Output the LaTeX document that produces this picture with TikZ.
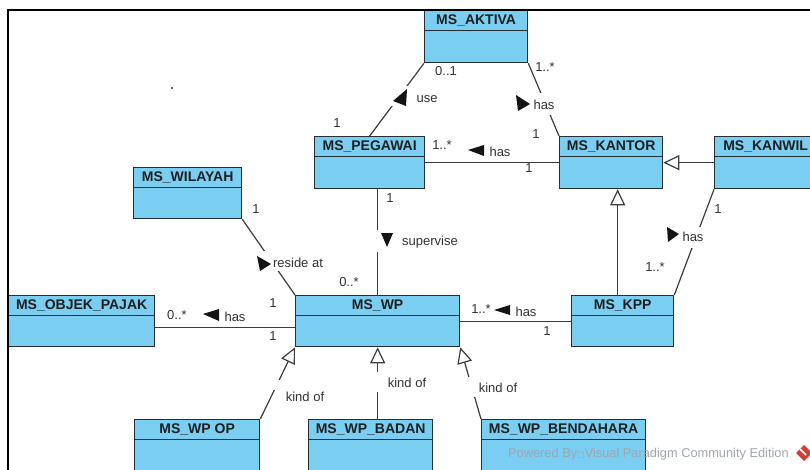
\documentclass[tikz,border=0pt]{standalone}
\usepackage{fontspec}
\setmainfont{Liberation Sans}
\newfontfamily\symfont{DejaVu Sans}
\usetikzlibrary{arrows.meta}
\definecolor{clsfill}{RGB}{122,206,242}
\definecolor{clsline}{RGB}{38,46,54}
\definecolor{lnc}{RGB}{60,60,60}
\definecolor{txt}{RGB}{50,50,50}
\definecolor{wm}{RGB}{160,165,172}
\definecolor{vpred}{RGB}{215,60,50}
\tikzset{
  clsbox/.style={draw=clsline, fill=clsfill, line width=1.3pt, inner sep=0pt},
  clshead/.style={draw=clsline, fill=clsfill, line width=1.3pt, inner sep=0pt,
    minimum height=20pt, anchor=north, font=\fontsize{14}{15}\selectfont\bfseries, text=black!88},
  assoc/.style={draw=lnc, line width=1.2pt},
  gen/.style={draw=lnc, line width=1.2pt, -{Triangle[length=16pt,width=15pt,fill=white]}},
  lbl/.style={inner sep=0pt, font=\fontsize{13}{14}\selectfont, text=txt},
  gapbox/.style={fill=white, inner sep=0pt},
  dirtri/.style={fill=black!92},
}
\newcommand\umlcls[6]{%
  \node[clsbox, minimum width=#4pt, minimum height=#5pt, anchor=north west] (#1) at (#2,#3) {};
  \node[clshead, minimum width=#4pt] (#1-h) at (#1.north) {#6};}
\begin{document}
\begin{tikzpicture}[x=1pt,y=-1pt]
\useasboundingbox (0,0) rectangle (810,470);
\fill[white] (0,0) rectangle (810,470);

% classes
\umlcls{aktiva}{424}{10}{103}{52}{MS\_AKTIVA}
\umlcls{pegawai}{314}{136}{110}{52}{MS\_PEGAWAI}
\umlcls{kantor}{559}{136}{103}{52}{MS\_KANTOR}
\umlcls{kanwil}{714}{136}{102}{52}{MS\_KANWIL}
\umlcls{wilayah}{133}{167}{108}{51}{MS\_WILAYAH}
\umlcls{objek}{8}{295}{146}{51}{MS\_OBJEK\_PAJAK}
\umlcls{wp}{295}{295}{164}{51}{MS\_WP}
\umlcls{kpp}{571}{295}{102}{51}{MS\_KPP}
\umlcls{wpop}{134}{419}{125}{52}{MS\_WP OP}
\umlcls{badan}{308}{419}{124}{52}{MS\_WP\_BADAN}
\umlcls{bend}{481}{419}{164}{52}{MS\_WP\_BENDAHARA}

% associations
\draw[assoc] (aktiva.south west) -- (pegawai.north);
\draw[assoc] (aktiva.south east) -- (kantor.north west);
\draw[assoc] (pegawai.east) -- (kantor.west);
\draw[assoc] (wp.north) -- (wp.north |- pegawai.south);
\draw[assoc] (wilayah.south east) -- (wp.north west);
\coordinate (o1) at ([yshift=-6.5pt]wp.west);
\draw[assoc] (o1) -- (o1 -| objek.east);
\draw[assoc] (wp.east) -- (kpp.west);
\draw[assoc] (kanwil.south west) -- (kpp.north east);

% generalizations
\draw[gen] (kanwil.west) -- (kantor.east);
\coordinate (k1) at ([xshift=-5pt]kpp.north);
\draw[gen] (k1) -- (k1 |- kantor.south);
\draw[gen] (wpop.north east) -- (wp.south west);
\draw[gen] (wp.south |- badan.north) -- (wp.south);
\draw[gen] (bend.north west) -- (wp.south east);

% gaps under labels
\node[gapbox, minimum width=20pt, minimum height=20pt] (g1) at (399,96) {};
\node[gapbox, minimum width=14pt, minimum height=22pt] (g2) at (545,104) {};
\node[gapbox, minimum width=10pt, minimum height=22pt] (g3) at (377,241) {};
\node[gapbox, minimum width=16pt, minimum height=20pt] (g4) at (271,261) {};
\node[gapbox, minimum width=12pt, minimum height=21pt] (g5) at (695,237.5) {};
\node[gapbox, minimum width=10pt, minimum height=20pt] (g6) at (377,382) {};
\node[gapbox, minimum width=10pt, minimum height=10pt] (g7) at (276,385) {};
\node[gapbox, minimum width=12pt, minimum height=20pt] (g8) at (471,387) {};

% direction triangles
\fill[dirtri] (407,89) -- (393,101) -- (406,106) -- cycle;
\fill[dirtri] (516,95) -- (518,111) -- (530,104) -- cycle;
\fill[dirtri] (468,150) -- (484,145) -- (484,156) -- cycle;
\fill[dirtri] (381,233) -- (393,233) -- (387,247) -- cycle;
\fill[dirtri] (257,256) -- (260,271) -- (271,264) -- cycle;
\fill[dirtri] (667,227) -- (679,234) -- (668,242) -- cycle;
\fill[dirtri] (203,314) -- (219,309) -- (219,321) -- cycle;
\fill[dirtri] (494,310) -- (510,305) -- (510,315) -- cycle;

% labels
\node[lbl] (m1) at (446,71) {0..1};
\node[lbl] (m2) at (545,67) {1..*};
\node[lbl] (t1) at (427,99) {use};
\node[lbl] (t2) at (544,105) {has};
\node[lbl] (m3) at (337,123) {1};
\node[lbl] (m4) at (536,134) {1};
\node[lbl] (m5) at (442,145) {1..*};
\node[lbl] (t3) at (500,152) {has};
\node[lbl] (m6) at (529,168) {1};
\node[lbl] (m7) at (390,198) {1};
\node[lbl] (t4) at (430,242) {supervise};
\node[lbl] (m8) at (349,282) {0..*};
\node[lbl] (m9) at (718,209) {1};
\node[lbl] (t5) at (693,237) {has};
\node[lbl] (m10) at (655,267) {1..*};
\node[lbl] (m11) at (256,209) {1};
\node[lbl] (t6) at (298,263) {reside at};
\node[lbl] (m12) at (273,303) {1};
\node[lbl] (m13) at (177,315) {0..*};
\node[lbl] (t7) at (235,317) {has};
\node[lbl] (m14) at (273,336) {1};
\node[lbl] (t8) at (305,397) {kind of};
\node[lbl] (m15) at (481,309) {1..*};
\node[lbl] (t9) at (526,312) {has};
\node[lbl] (m16) at (547,331) {1};
\node[lbl] (t10) at (407,383) {kind of};
\node[lbl] (t11) at (498,388) {kind of};

% watermark
\node[inner sep=0pt, anchor=west, font=\fontsize{12.8}{14}\selectfont, text=wm] (wmark) at (508,454)
  {Powered By{\symfont\fontsize{8}{9}\selectfont □}Visual Paradigm Community Edition};
\fill[vpred] (804,445) -- (812,453) -- (804,461) -- (796,453) -- cycle;
\draw[white, line width=1.5pt] (800,449) -- (806,455);

% stray dot
\fill[black!60] (171,87) rectangle (173,89);

% frame
\draw[line width=2.6pt, black, line join=miter] (8,472) -- (8,10) -- (812,10);
\end{tikzpicture}
\end{document}
